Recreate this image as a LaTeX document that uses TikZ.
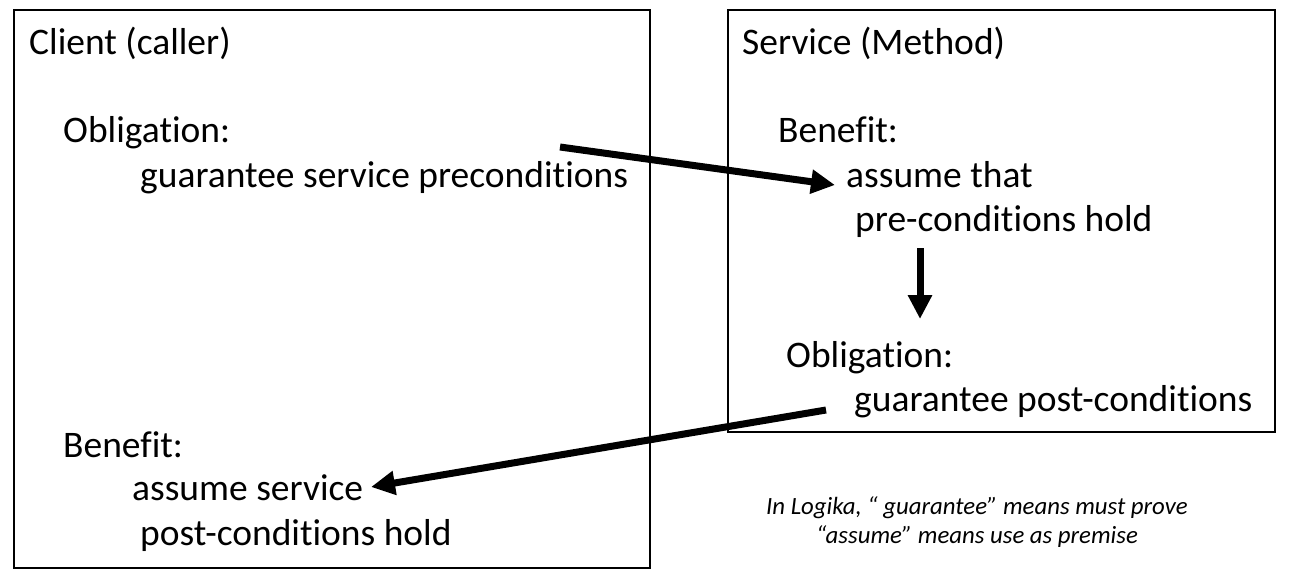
\documentclass[tikz,border=0pt]{standalone}
\usepackage{fontspec}
\setmainfont{Carlito}[Ligatures=NoCommon]
\usetikzlibrary{arrows.meta}

\tikzset{
  txt/.style={anchor=base west, inner sep=0pt, font=\fontsize{37.5}{44}\selectfont},
  note/.style={anchor=base, inner sep=0pt, font=\fontsize{24.8}{29}\selectfont\itshape},
  box/.style={line width=1.6pt},
  fat/.style={line width=7pt, -{Triangle[length=24pt,width=23pt]}}
}

\begin{document}
\begin{tikzpicture}[x=1pt, y=-1pt]
\useasboundingbox (0,0) rectangle (1289,587);
\draw[box] (14,10) rectangle (650,568);
\draw[box] (728,10) rectangle (1275,432);

\node[txt] (client) at (29,54) {Client (caller)};
\node[txt] (cobl) at (63,142) {Obligation:};
\node[txt] (cpre) at (140,187) {guarantee service preconditions};
\node[txt] (cben) at (63,457) {Benefit:};
\node[txt] (cass) at (132,500) {assume service};
\node[txt] (cpost) at (140,545) {post-conditions hold};

\node[txt] (service) at (742,54) {Service (Method)};
\node[txt] (sben) at (778,142) {Benefit:};
\node[txt] (sass) at (846,187) {assume that};
\node[txt] (spre) at (855,231) {pre-conditions hold};
\node[txt] (sobl) at (786,367) {Obligation:};
\node[txt] (spost) at (854,411) {guarantee post-conditions};

\node[note] (note1) at (977,514) {In Logika, “ guarantee” means must prove};
\node[note] (note2) at (977,543) {“assume” means use as premise};

\coordinate (a1) at (560,147);
\coordinate (b1) at (835,185);
\coordinate (a2) at (920,248);
\coordinate (b2) at (920,319);
\coordinate (a3) at (826,410);
\coordinate (b3) at (371,487);
\draw[fat] (a1) -- (b1);
\draw[fat] (a2) -- (b2);
\draw[fat] (a3) -- (b3);
\end{tikzpicture}
\end{document}
